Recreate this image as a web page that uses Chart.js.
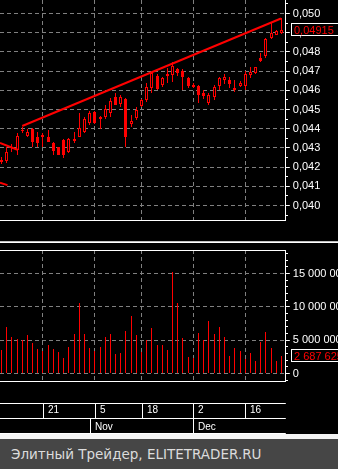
<!DOCTYPE html>
<html>
<head>
<meta charset="utf-8">
<script src="https://cdn.jsdelivr.net/npm/chart.js@4/dist/chart.umd.min.js"></script>
<style>
  html, body { margin:0; padding:0; }
  body { width:338px; height:469px; background:#000; position:relative; overflow:hidden; }
  canvas { position:absolute; left:0; }
  #price { top:0; }
  #vol { top:250px; }
  #sep1 { position:absolute; left:0; top:241px; width:338px; height:1px; background:#c0c0c0; }
  #sep2 { position:absolute; left:0; top:242px; width:338px; height:1px; background:#ffffff; }
  #strip { position:absolute; left:0; top:434px; width:338px; height:5px; background:#f4f4f4; }
  #footer { position:absolute; left:0; top:439px; width:338px; height:30px; background:#464646; }
  #footer span { position:absolute; left:11px; top:8px; font-family:'DejaVu Sans'; font-size:13.5px; line-height:15px; color:#dcdcdc; white-space:nowrap; }
</style>
</head>
<body>
<canvas id="price" width="338" height="222"></canvas>
<div id="sep1"></div><div id="sep2"></div>
<canvas id="vol" width="338" height="188"></canvas>
<div id="strip"></div>
<div id="footer"><span>Элитный Трейдер, ELITETRADER.RU</span></div>
<script>
// ---------------- data ----------------
const dates = ['2013-10-09','2013-10-10','2013-10-11','2013-10-14','2013-10-15','2013-10-16','2013-10-17','2013-10-18',
  '2013-10-21','2013-10-22','2013-10-23','2013-10-24','2013-10-25','2013-10-28','2013-10-29','2013-10-30','2013-10-31',
  '2013-11-01','2013-11-05','2013-11-06','2013-11-07','2013-11-08','2013-11-11','2013-11-12','2013-11-13','2013-11-14',
  '2013-11-15','2013-11-18','2013-11-19','2013-11-20','2013-11-21','2013-11-22','2013-11-25','2013-11-26','2013-11-27',
  '2013-11-28','2013-11-29','2013-12-02','2013-12-03','2013-12-04','2013-12-05','2013-12-06','2013-12-09','2013-12-10',
  '2013-12-11','2013-12-12','2013-12-13','2013-12-16','2013-12-17','2013-12-18','2013-12-19','2013-12-20','2013-12-23',
  '2013-12-24','2013-12-25'];
const open  = [0.04237,0.04234,0.04305,0.04289,0.04386,0.04362,0.04397,0.04355,0.04355,0.04358,0.04327,0.04303,0.04341,0.04280,
  0.04336,0.04358,0.04384,0.04431,0.04488,0.04449,0.04462,0.04480,0.04566,0.04528,0.04553,0.04423,0.04454,0.04520,0.04549,
  0.04610,0.04674,0.04627,0.04684,0.04679,0.04709,0.04700,0.04665,0.04630,0.04622,0.04587,0.04532,0.04563,0.04622,0.04653,
  0.04653,0.04610,0.04622,0.04622,0.04679,0.04690,0.04766,0.04778,0.04870,0.04890,0.04896];
const high  = [0.04253,0.04306,0.04318,0.04376,0.04410,0.04401,0.04402,0.04384,0.04376,0.04392,0.04331,0.04305,0.04344,0.04350,
  0.04384,0.04480,0.04459,0.04494,0.04494,0.04465,0.04523,0.04558,0.04587,0.04575,0.04560,0.04471,0.04514,0.04553,0.04636,
  0.04696,0.04684,0.04671,0.04714,0.04747,0.04717,0.04710,0.04671,0.04636,0.04627,0.04601,0.04585,0.04627,0.04670,0.04684,
  0.04669,0.04653,0.04648,0.04700,0.04723,0.04723,0.04795,0.04870,0.04950,0.04916,0.04974];
const low   = [0.04216,0.04223,0.04279,0.04263,0.04376,0.04357,0.04305,0.04305,0.04306,0.04332,0.04263,0.04263,0.04245,0.04275,
  0.04327,0.04357,0.04376,0.04419,0.04427,0.04397,0.04449,0.04459,0.04521,0.04514,0.04303,0.04410,0.04445,0.04514,0.04540,
  0.04584,0.04601,0.04617,0.04636,0.04643,0.04674,0.04601,0.04612,0.04614,0.04532,0.04554,0.04523,0.04549,0.04601,0.04632,
  0.04612,0.04592,0.04617,0.04601,0.04664,0.04687,0.04747,0.04768,0.04866,0.04887,0.04893];
const close = [0.04229,0.04280,0.04297,0.04362,0.04391,0.04384,0.04332,0.04327,0.04367,0.04333,0.04286,0.04265,0.04265,0.04345,
  0.04344,0.04402,0.04449,0.04480,0.04428,0.04462,0.04502,0.04546,0.04523,0.04566,0.04355,0.04440,0.04497,0.04549,0.04618,
  0.04688,0.04605,0.04662,0.04677,0.04726,0.04692,0.04669,0.04622,0.04618,0.04575,0.04570,0.04575,0.04615,0.04662,0.04671,
  0.04632,0.04604,0.04639,0.04683,0.04696,0.04719,0.04752,0.04865,0.04898,0.04911,0.04915];
const volume = [3500000,6950000,5450000,5150000,5000000,5750000,4550000,3650000,3400000,4250000,3650000,3200000,2300000,
  3950000,5950000,10550000,5950000,3800000,3400000,3950000,5450000,5950000,2900000,3050000,6350000,8600000,5800000,
  3250000,5000000,6850000,4250000,4250000,3500000,15200000,10600000,5350000,2500000,2350000,6050000,5050000,7850000,
  5950000,6950000,5450000,2650000,3850000,3400000,2200000,3100000,1900000,4750000,6250000,3850000,1900000,2687625];
// drawn trend lines (index of trading day, price)
const trendUp   = [{x:4, y:0.04414}, {x:53.9, y:0.04974}];
const trendDown = [{x:-0.3, y:0.04326}, {x:3.2, y:0.04289}];
const trendLow  = [{x:-0.3, y:0.04119}, {x:1.15, y:0.04106}];
const priceTicks  = [0.040,0.041,0.042,0.043,0.044,0.045,0.046,0.047,0.048,0.049,0.050];
const volumeTicks = [0, 5000000, 10000000, 15000000];
const dayTickDates = ['2013-10-21','2013-11-05','2013-11-18','2013-12-02','2013-12-16'];
const monthNames = ['Jan','Feb','Mar','Apr','May','Jun','Jul','Aug','Sep','Oct','Nov','Dec'];

// ---------------- helpers ----------------
const idx = dates.map((d, i) => i);
const dayTickIdx = dayTickDates.map(d => dates.indexOf(d));
const monthStarts = idx.filter(i => i > 0 && dates[i].slice(5,7) !== dates[i-1].slice(5,7));
const RED = '#ff0000', GRID = '#808080';
Chart.defaults.font.family = "'Liberation Sans', Arial, sans-serif";
Chart.defaults.font.size = 11;
Chart.defaults.color = '#ffffff';

function fmtPrice(v) { return v.toFixed(3).replace('.', ','); }
function fmtVol(v) { return String(Math.round(v)).replace(/\B(?=(\d{3})+(?!\d))/g, ' '); }

function xScale(showBorder) {
  return {
    type: 'linear', min: -0.29, max: 54.83, offset: false,
    afterBuildTicks: s => { s.ticks = dayTickIdx.map(v => ({ value: v })); },
    ticks: { display: false },
    grid: { color: GRID, lineWidth: 1, drawTicks: false, offset: false, borderDash: [4, 3] },
    border: { display: showBorder, color: '#ffffff', width: 1, dash: [4, 3] }
  };
}
function yScale(min, max, ticks, fmt) {
  return {
    position: 'right', min: min, max: max,
    afterBuildTicks: s => { s.ticks = ticks.map(v => ({ value: v })); },
    afterFit: s => { s.width = 52.2; s.paddingTop = 0; s.paddingBottom = 0; },
    ticks: { color: '#ffffff', padding: 3, autoSkip: false, callback: v => fmt(v) },
    grid: { color: GRID, tickColor: '#ffffff', tickLength: 4, lineWidth: 1, borderDash: [4, 3] },
    border: { display: true, color: '#ffffff', width: 1, dash: [4, 3] }
  };
}
function minorTicks(chart, values) {
  const s = chart.scales.y, ctx = chart.ctx;
  ctx.save(); ctx.strokeStyle = '#ffffff'; ctx.lineWidth = 1;
  values.forEach(v => {
    const y = Math.floor(s.getPixelForValue(v)) + 0.5;
    if (y < s.top || y > s.bottom + 1) return;
    ctx.beginPath(); ctx.moveTo(286, y); ctx.lineTo(288, y); ctx.stroke();
  });
  ctx.restore();
}
function valueBox(chart, value, text) {
  const s = chart.scales.y, ctx = chart.ctx;
  const yy = Math.round(s.getPixelForValue(value));
  ctx.save();
  ctx.fillStyle = '#000'; ctx.fillRect(291, yy - 7, 60, 13);
  ctx.strokeStyle = '#fff'; ctx.lineWidth = 1; ctx.strokeRect(291.5, yy - 6.5, 60, 12);
  ctx.fillStyle = RED; ctx.font = "11px 'Liberation Sans', Arial"; ctx.textBaseline = 'middle';
  ctx.fillText(text, 294, yy + 0.5);
  ctx.restore();
}
// keep bar edges on whole pixels (crisp 1px wicks / volume sticks like the original)
const snapPlugin = {
  id: 'snap',
  afterDatasetsUpdate(chart) {
    chart.data.datasets.forEach((ds, di) => {
      const meta = chart.getDatasetMeta(di);
      if (meta.type !== 'bar') return;
      meta.data.forEach(el => {
        el.x = Math.floor(el.x) + 0.5;
        let y = Math.round(el.y), b = Math.round(el.base);
        if (Math.abs(y - b) < 1) b = y + 1;
        el.y = y; el.base = b;
      });
    });
  }
};
const commonOpts = {
  responsive: false, animation: false, devicePixelRatio: 1, events: [],
  plugins: { legend: { display: false }, tooltip: { enabled: false } }
};

// ---------------- price chart ----------------
const up = idx.map(i => close[i] >= open[i]);
const priceMinor = [];
priceTicks.forEach(v => { priceMinor.push(+(v - 0.0005).toFixed(4)); });
priceMinor.push(0.0505);

new Chart(document.getElementById('price'), {
  type: 'bar',
  data: {
    datasets: [
      { type: 'line', data: trendUp, borderColor: RED, borderWidth: 2, pointRadius: 0, order: 0 },
      { type: 'line', data: trendDown, borderColor: RED, borderWidth: 2, pointRadius: 0, order: 0 },
      { type: 'line', data: trendLow, borderColor: RED, borderWidth: 2, pointRadius: 0, order: 0 },
      { type: 'bar', data: idx.map(i => ({ x: i, y: [open[i], close[i]] })),
        backgroundColor: up.map(u => u ? '#000000' : RED), borderColor: RED, borderWidth: 1,
        borderSkipped: false, barThickness: 3, grouped: false, inflateAmount: 0, order: 1 },
      { type: 'bar', data: idx.map(i => ({ x: i, y: [low[i], high[i]] })),
        backgroundColor: RED, borderWidth: 0, barThickness: 1, grouped: false, inflateAmount: 0, order: 2 }
    ]
  },
  options: Object.assign({}, commonOpts, {
    layout: { padding: { left: 0, top: 0, right: 0, bottom: 2 } },
    scales: { x: xScale(true), y: yScale(0.039245, 0.050703, priceTicks, fmtPrice) }
  }),
  plugins: [snapPlugin, {
    id: 'priceExtras',
    afterDraw(chart) {
      minorTicks(chart, priceMinor);
      valueBox(chart, close[close.length - 1], close[close.length - 1].toFixed(5).replace('.', ','));
    }
  }]
});

// ---------------- volume chart ----------------
const volMinor = [];
for (let m = -1; m <= 18; m++) if (m % 5 !== 0) volMinor.push(m * 1000000);

new Chart(document.getElementById('vol'), {
  type: 'bar',
  data: {
    datasets: [
      { type: 'bar', data: idx.map(i => ({ x: i, y: volume[i] })), backgroundColor: RED,
        borderWidth: 0, barThickness: 1, grouped: false, inflateAmount: 0 }
    ]
  },
  options: Object.assign({}, commonOpts, {
    layout: { padding: { left: 0, top: 0, right: 0, bottom: 57 } },
    scales: { x: xScale(true), y: yScale(-1125000, 18525000, volumeTicks, fmtVol) }
  }),
  plugins: [snapPlugin, {
    id: 'volExtras',
    afterDraw(chart) {
      const ctx = chart.ctx, a = chart.chartArea, xs = chart.scales.x;
      ctx.save();
      ctx.strokeStyle = '#ffffff'; ctx.lineWidth = 1;
      // pane top border
      ctx.beginPath(); ctx.moveTo(0, a.top + 0.5); ctx.lineTo(a.right, a.top + 0.5); ctx.stroke();
      // date axis rows
      const r0 = a.bottom + 22, r1 = a.bottom + 37, r2 = a.bottom + 52;
      [r0, r1, r2].forEach(r => { ctx.beginPath(); ctx.moveTo(0, r + 0.5); ctx.lineTo(a.right, r + 0.5); ctx.stroke(); });
      ctx.font = "10px 'Liberation Sans', Arial"; ctx.fillStyle = '#ffffff'; ctx.textBaseline = 'alphabetic';
      dayTickIdx.forEach(i => {
        const px = Math.round(xs.getPixelForValue(i)) + 0.5;
        ctx.beginPath(); ctx.moveTo(px, r0); ctx.lineTo(px, r1); ctx.stroke();
        ctx.fillText(String(+dates[i].slice(8, 10)), px + 4.5, r0 + 10);
      });
      monthStarts.forEach(i => {
        const px = Math.round(xs.getPixelForValue(i)) + 0.5;
        ctx.beginPath(); ctx.moveTo(px, r1); ctx.lineTo(px, r2); ctx.stroke();
        ctx.fillText(monthNames[+dates[i].slice(5, 7) - 1], px + 4.5, r1 + 12);
      });
      ctx.restore();
      minorTicks(chart, volMinor);
      valueBox(chart, volume[volume.length - 1], fmtVol(volume[volume.length - 1]));
    }
  }]
});
</script>
</body>
</html>
